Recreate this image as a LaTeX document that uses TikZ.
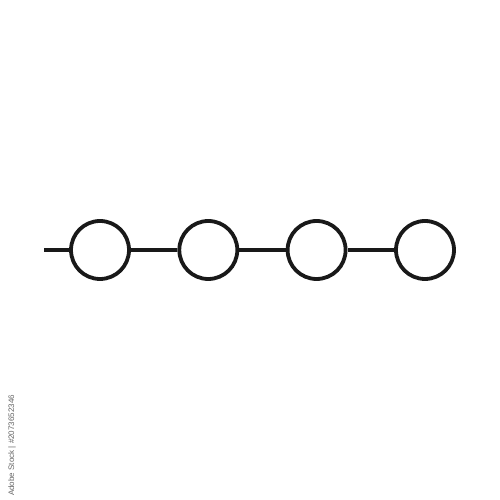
\documentclass[tikz,border=0pt]{standalone}
\usepackage{fontspec}
\setmainfont{Liberation Sans}
\begin{document}
\begin{tikzpicture}[x=1pt,y=1pt,
  bead/.style={circle,draw=black!90,line width=3.8pt,minimum size=58pt,inner sep=0pt,fill=white},
  wire/.style={draw=black!90,line width=3.6pt},
  wm/.style={text=black!60,font=\fontsize{8}{9}\selectfont,rotate=90,anchor=west,inner sep=0pt}]
\useasboundingbox[fill=white] (0,0) rectangle (500,500);
\coordinate (s) at (44,250);
\node[bead] (c1) at (100,250) {};
\node[bead] (c2) at (208.3,250) {};
\node[bead] (c3) at (316.6,250) {};
\node[bead] (c4) at (425,250) {};
\draw[wire] (s) -- (c1.west);
\draw[wire] (c1.east) -- (c2.west);
\draw[wire] (c2.east) -- (c3.west);
\draw[wire] (c3.east) -- (c4.west);
\node[wm] (w) at (12,4) {Adobe Stock | \#2073652346};
\end{tikzpicture}
\end{document}
